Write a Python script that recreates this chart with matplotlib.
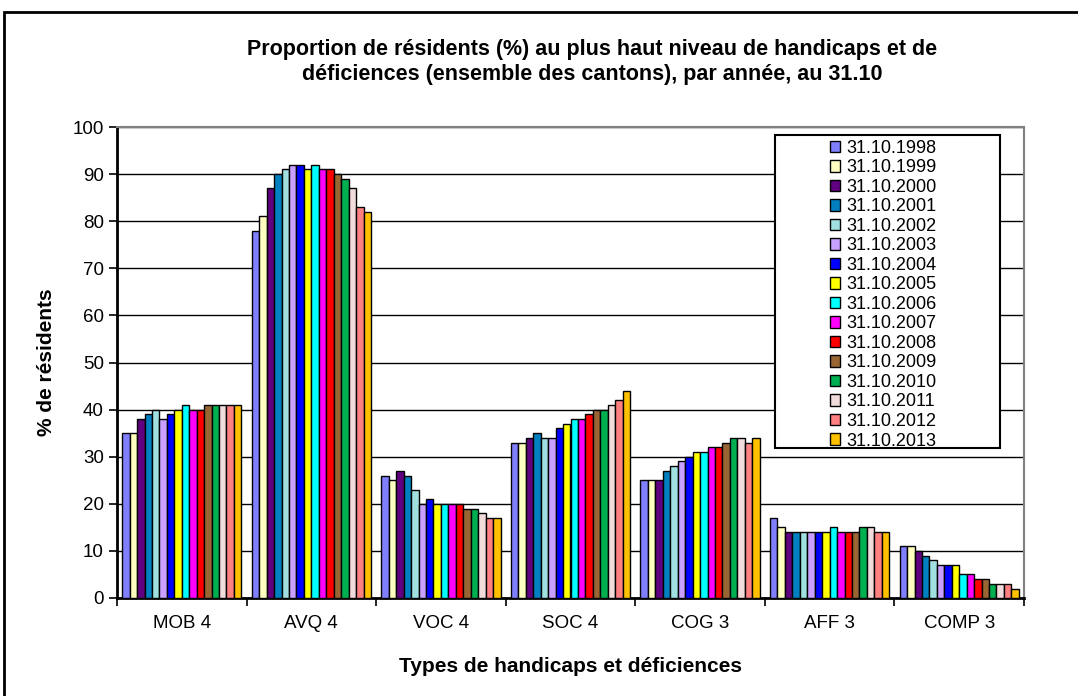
import numpy as np
import matplotlib
matplotlib.use('Agg')
import matplotlib.pyplot as plt
from matplotlib.patches import Rectangle

plt.rcParams['font.family'] = ['Liberation Sans', 'DejaVu Sans']

categories = ['MOB 4', 'AVQ 4', 'VOC 4', 'SOC 4', 'COG 3', 'AFF 3', 'COMP 3']
years = ['31.10.1998', '31.10.1999', '31.10.2000', '31.10.2001', '31.10.2002',
         '31.10.2003', '31.10.2004', '31.10.2005', '31.10.2006', '31.10.2007',
         '31.10.2008', '31.10.2009', '31.10.2010', '31.10.2011', '31.10.2012',
         '31.10.2013']

# one list per category, values by year
mob4 = [35, 35, 38, 39, 40, 38, 39, 40, 41, 40, 40, 41, 41, 41, 41, 41]
avq4 = [78, 81, 87, 90, 91, 92, 92, 91, 92, 91, 91, 90, 89, 87, 83, 82]
voc4 = [26, 25, 27, 26, 23, 20, 21, 20, 20, 20, 20, 19, 19, 18, 17, 17]
soc4 = [33, 33, 34, 35, 34, 34, 36, 37, 38, 38, 39, 40, 40, 41, 42, 44]
cog3 = [25, 25, 25, 27, 28, 29, 30, 31, 31, 32, 32, 33, 34, 34, 33, 34]
aff3 = [17, 15, 14, 14, 14, 14, 14, 14, 15, 14, 14, 14, 15, 15, 14, 14]
comp3 = [11, 11, 10, 9, 8, 7, 7, 7, 5, 5, 4, 4, 3, 3, 3, 2]

colors = ['#8080FF', '#FFFFC0', '#600080', '#0080C0', '#A0E0E0', '#C8A0FF',
          '#0000FF', '#FFFF00', '#00FFFF', '#FF00FF', '#FF0000', '#996633',
          '#00B050', '#F2DCDB', '#FF8080', '#FFC000']

data = np.array([mob4, avq4, voc4, soc4, cog3, aff3, comp3])

fig = plt.figure(figsize=(10.78, 6.96), dpi=100)
ax = fig.add_axes([117/1078, 1 - 598/696, 907/1078, 471/696])

n = len(years)
group = 0.92
w = group / n
x = np.arange(len(categories))
for i in range(n):
    ax.bar(x - group/2 + w*(i + 0.5), data[:, i], width=w, color=colors[i],
           edgecolor='black', linewidth=1.0, label=years[i], zorder=3)

ax.set_xlim(-0.5, len(categories) - 0.5)
ax.set_ylim(0, 100)
ax.set_yticks(range(0, 101, 10))
ax.yaxis.grid(True, color='black', linewidth=1.0, zorder=0)
ax.set_axisbelow(True)

ax.set_xticks(x)
ax.set_xticklabels(categories, fontsize=13.5)
ax.set_xticks(np.arange(-0.5, len(categories)), minor=True)
ax.tick_params(axis='x', which='major', length=0, pad=12)
ax.tick_params(axis='x', which='minor', length=6, width=1.2, direction='out')
ax.tick_params(axis='y', labelsize=13.5, length=6, width=1.2, direction='out')

for s in ['left', 'bottom']:
    ax.spines[s].set_linewidth(2)
for s in ['top', 'right']:
    ax.spines[s].set_color('#808080')
    ax.spines[s].set_linewidth(1.5)

ax.set_ylabel('% de résidents', fontsize=15, fontweight='bold', labelpad=12)
ax.set_xlabel('Types de handicaps et déficiences', fontsize=15,
              fontweight='bold', labelpad=18)

fig.text(592/1078, 1 - 62/696,
         'Proportion de résidents (%) au plus haut niveau de handicaps et de\n'
         'déficiences (ensemble des cantons), par année, au 31.10',
         ha='center', va='center', fontsize=15.5, fontweight='bold',
         linespacing=1.2)

# legend box, wider than its entries as in the original
ax.add_patch(Rectangle((775/1078, 1 - 448/696), 225/1078, 313/696,
                       transform=fig.transFigure, facecolor='white',
                       edgecolor='black', linewidth=1.5, zorder=4,
                       clip_on=False))
leg = ax.legend(loc='upper left', bbox_to_anchor=(826/1078, 1 - 136/696),
                bbox_transform=fig.transFigure, fontsize=13, frameon=False,
                handlelength=0.6, handleheight=0.6, handletextpad=0.3,
                labelspacing=0.14, borderpad=0.2, borderaxespad=0)
leg.set_zorder(5)

# outer chart frame (partly outside the image)
fig.patches.append(Rectangle((4/1078, -0.05), 1.1, 1 - 12.5/696 + 0.05,
                             transform=fig.transFigure, fill=False,
                             edgecolor='black', linewidth=2))

fig.savefig('out.png', dpi=100)
